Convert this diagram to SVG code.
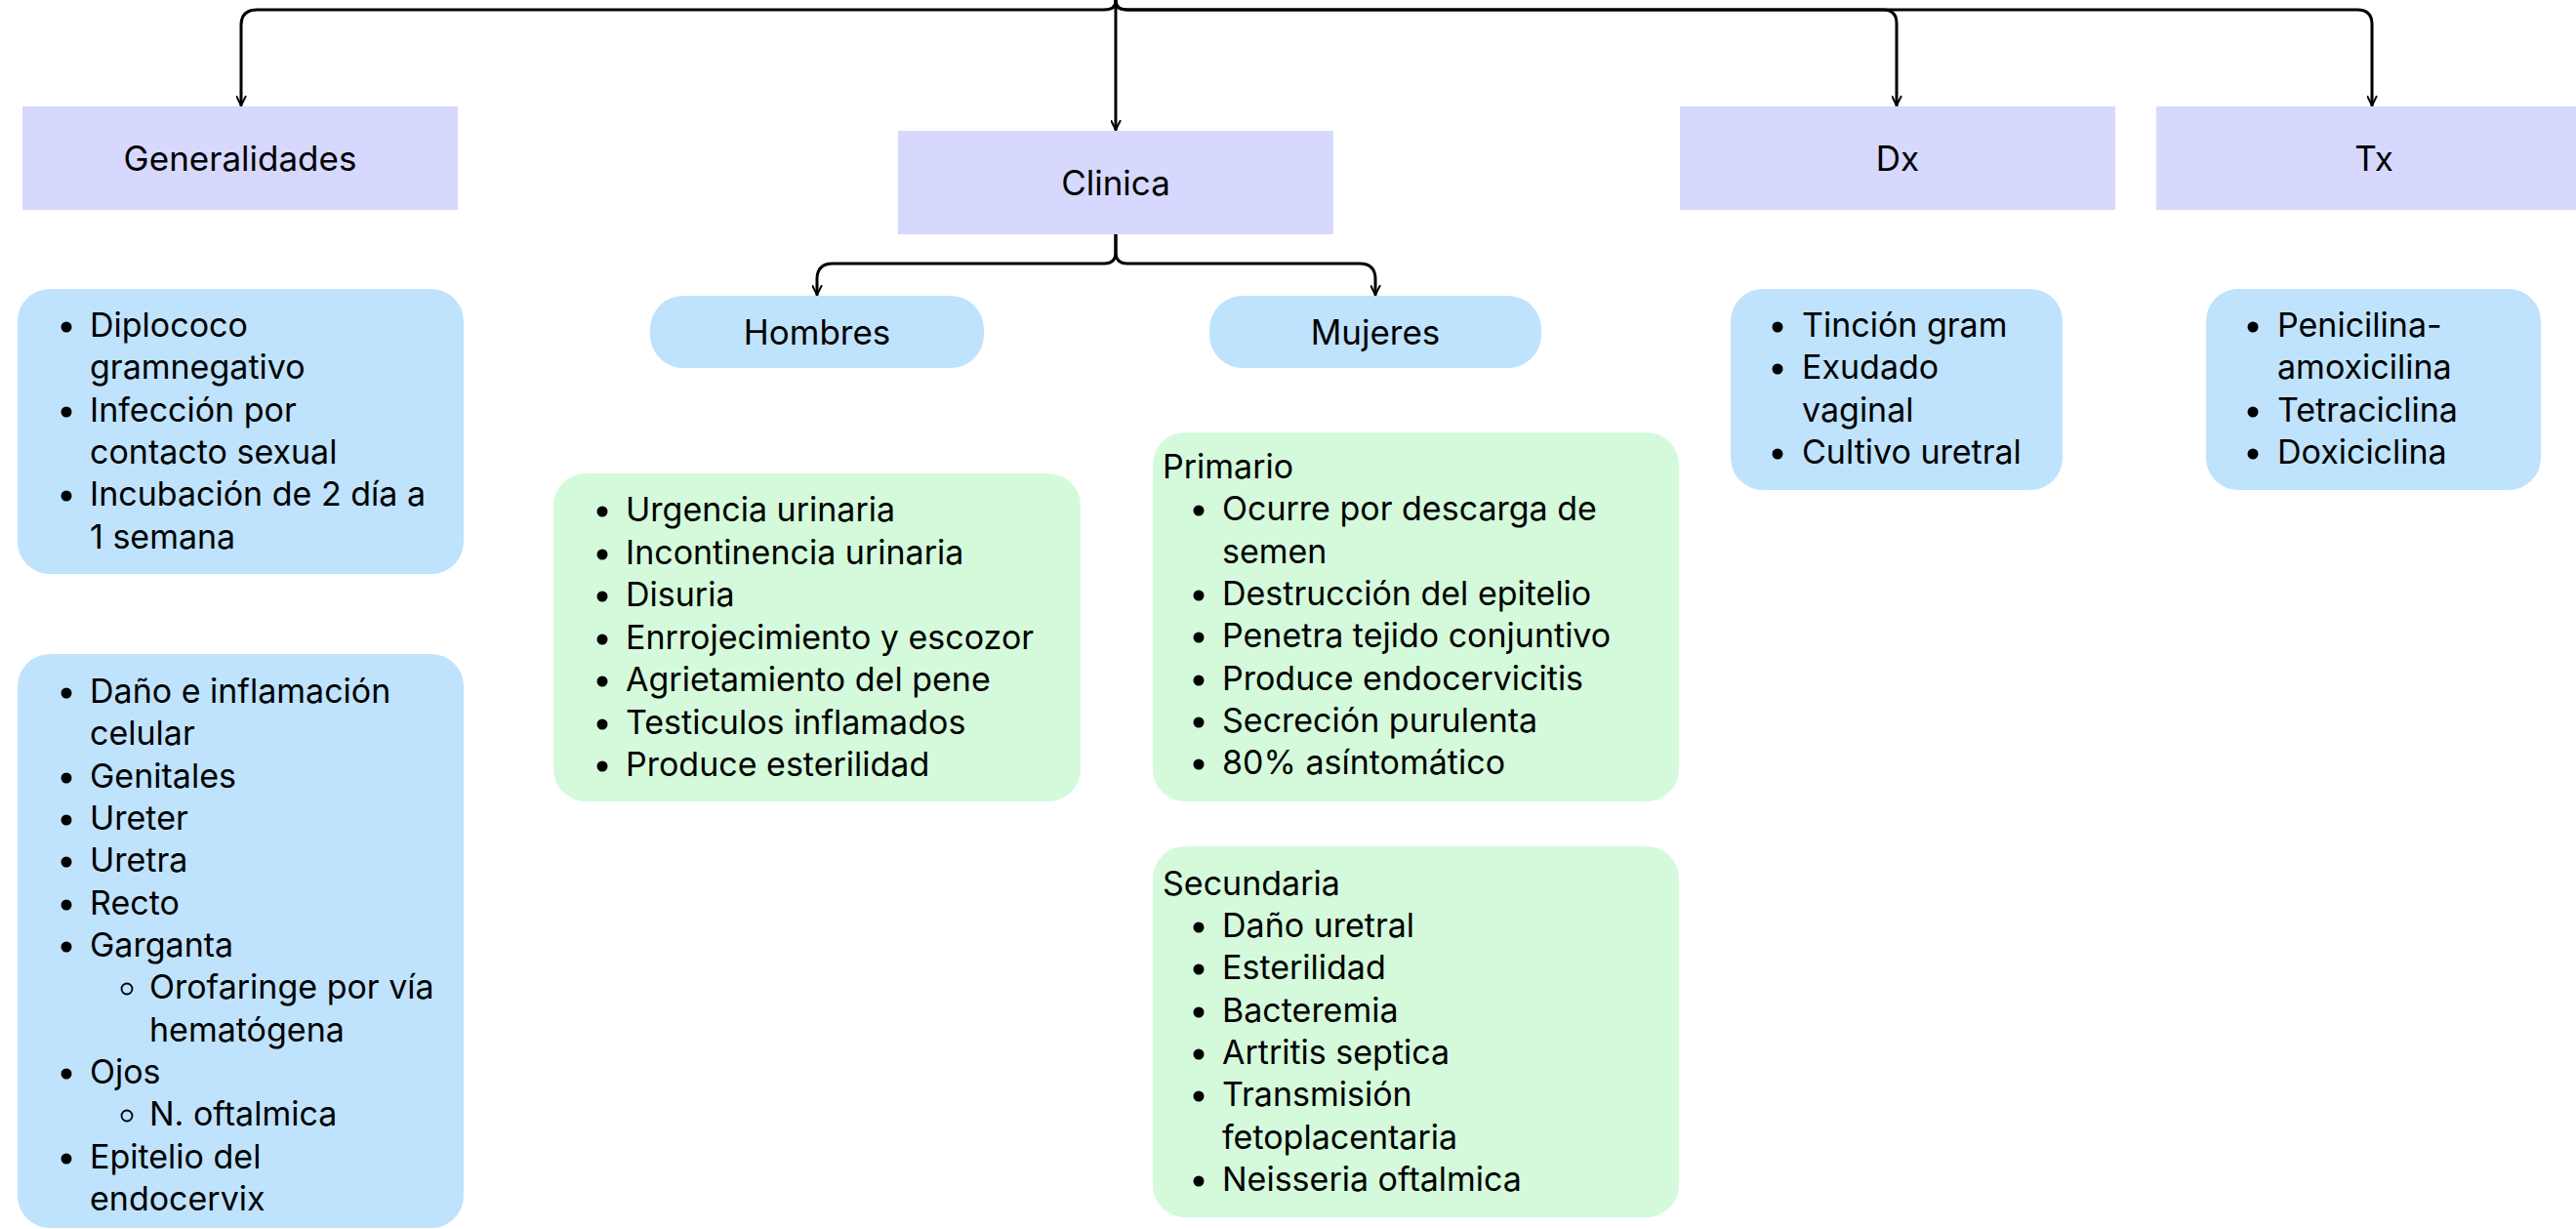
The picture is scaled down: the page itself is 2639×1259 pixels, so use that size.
<svg xmlns="http://www.w3.org/2000/svg" width="2639" height="1259" viewBox="0 0 2639 1259">
<style>
  text { font-family: Inter, "DejaVu Sans", sans-serif; font-size: 34px; fill: #000; }
  .hd { text-anchor: middle; font-size: 35px; }
  .head { fill: #d6d9fd; }
  .blue { fill: #bfe3fd; }
  .green { fill: #d4fadb; }
  .dot { fill: #000; }
  .ring { fill: none; stroke: #000; stroke-width: 1.8; }
  .conn { fill: none; stroke: #000; stroke-width: 3; stroke-linecap: round; stroke-linejoin: round; }
</style>
<defs>
  <marker id="arr" viewBox="0 0 12 12" refX="11" refY="6" markerWidth="11" markerHeight="11" markerUnits="userSpaceOnUse" orient="auto">
    <path d="M1,1 L11,6 L1,11" fill="none" stroke="#000" stroke-width="2.2" stroke-linecap="round" stroke-linejoin="round"/>
  </marker>
</defs>
<rect width="2639" height="1259" fill="#fff"/>

<g id="connectors">
  <path class="conn" marker-end="url(#arr)" d="M1143,1 Q1143,10 1131,10 H263 Q247,10 247,26 V108"/>
  <path class="conn" marker-end="url(#arr)" d="M1143,1 V133"/>
  <path class="conn" marker-end="url(#arr)" d="M1143,1 Q1143,10 1155,10 H1929 Q1943,10 1943,24 V108"/>
  <path class="conn" marker-end="url(#arr)" d="M1143,1 Q1143,10 1155,10 H2415 Q2430,10 2430,25 V108"/>
  <path class="conn" marker-end="url(#arr)" d="M1143,240 V258 Q1143,270 1131,270 H853 Q837,270 837,286 V302"/>
  <path class="conn" marker-end="url(#arr)" d="M1143,240 V258 Q1143,270 1155,270 H1393 Q1409,270 1409,286 V302"/>
</g>

<g id="generalidades">
  <rect class="head" x="23" y="109" width="446" height="106"/>
  <text class="hd" x="246" y="175">Generalidades</text>
</g>
<g id="clinica">
  <rect class="head" x="920" y="134" width="446" height="106"/>
  <text class="hd" x="1143" y="200">Clinica</text>
</g>
<g id="dx">
  <rect class="head" x="1721" y="109" width="446" height="106"/>
  <text class="hd" x="1944" y="175">Dx</text>
</g>
<g id="tx">
  <rect class="head" x="2209" y="109" width="446" height="106"/>
  <text class="hd" x="2432" y="175">Tx</text>
</g>

<g id="hombres">
  <rect class="blue" x="666" y="303" width="342" height="74" rx="34"/>
  <text class="hd" x="837" y="353">Hombres</text>
</g>
<g id="mujeres">
  <rect class="blue" x="1239" y="303" width="340" height="74" rx="34"/>
  <text class="hd" x="1409" y="353">Mujeres</text>
</g>

<g id="gen-list-1">
  <rect class="blue" x="18" y="296" width="457" height="292" rx="33"/>
  <circle class="dot" cx="68" cy="335" r="5.5"/>
  <circle class="dot" cx="68" cy="422" r="5.5"/>
  <circle class="dot" cx="68" cy="508" r="5.5"/>
  <text x="92" y="345">Diplococo</text>
  <text x="92" y="388">gramnegativo</text>
  <text x="92" y="432">Infección por</text>
  <text x="92" y="475">contacto sexual</text>
  <text x="92" y="518">Incubación de 2 día a</text>
  <text x="92" y="562">1 semana</text>
</g>

<g id="gen-list-2">
  <rect class="blue" x="18" y="670" width="457" height="588" rx="33"/>
  <circle class="dot" cx="68" cy="710" r="5.5"/>
  <circle class="dot" cx="68" cy="797" r="5.5"/>
  <circle class="dot" cx="68" cy="840" r="5.5"/>
  <circle class="dot" cx="68" cy="883" r="5.5"/>
  <circle class="dot" cx="68" cy="927" r="5.5"/>
  <circle class="dot" cx="68" cy="970" r="5.5"/>
  <circle class="ring" cx="130" cy="1013" r="5.5"/>
  <circle class="dot" cx="68" cy="1100" r="5.5"/>
  <circle class="ring" cx="130" cy="1143" r="5.5"/>
  <circle class="dot" cx="68" cy="1187" r="5.5"/>
  <text x="92" y="720">Daño e inflamación</text>
  <text x="92" y="763">celular</text>
  <text x="92" y="807">Genitales</text>
  <text x="92" y="850">Ureter</text>
  <text x="92" y="893">Uretra</text>
  <text x="92" y="937">Recto</text>
  <text x="92" y="980">Garganta</text>
  <text x="153" y="1023">Orofaringe por vía</text>
  <text x="153" y="1067">hematógena</text>
  <text x="92" y="1110">Ojos</text>
  <text x="153" y="1153">N. oftalmica</text>
  <text x="92" y="1197">Epitelio del</text>
  <text x="92" y="1240">endocervix</text>
</g>

<g id="hombres-list">
  <rect class="green" x="567" y="485" width="540" height="336" rx="33"/>
  <circle class="dot" cx="617" cy="524" r="5.5"/>
  <circle class="dot" cx="617" cy="568" r="5.5"/>
  <circle class="dot" cx="617" cy="611" r="5.5"/>
  <circle class="dot" cx="617" cy="655" r="5.5"/>
  <circle class="dot" cx="617" cy="698" r="5.5"/>
  <circle class="dot" cx="617" cy="742" r="5.5"/>
  <circle class="dot" cx="617" cy="785" r="5.5"/>
  <text x="641" y="534">Urgencia urinaria</text>
  <text x="641" y="578">Incontinencia urinaria</text>
  <text x="641" y="621">Disuria</text>
  <text x="641" y="665">Enrrojecimiento y escozor</text>
  <text x="641" y="708">Agrietamiento del pene</text>
  <text x="641" y="752">Testiculos inflamados</text>
  <text x="641" y="795">Produce esterilidad</text>
</g>

<g id="primario">
  <rect class="green" x="1181" y="443" width="539" height="378" rx="33"/>
  <text x="1191" y="490">Primario</text>
  <circle class="dot" cx="1228" cy="523" r="5.5"/>
  <circle class="dot" cx="1228" cy="610" r="5.5"/>
  <circle class="dot" cx="1228" cy="653" r="5.5"/>
  <circle class="dot" cx="1228" cy="697" r="5.5"/>
  <circle class="dot" cx="1228" cy="740" r="5.5"/>
  <circle class="dot" cx="1228" cy="783" r="5.5"/>
  <text x="1252" y="533">Ocurre por descarga de</text>
  <text x="1252" y="577">semen</text>
  <text x="1252" y="620">Destrucción del epitelio</text>
  <text x="1252" y="663">Penetra tejido conjuntivo</text>
  <text x="1252" y="707">Produce endocervicitis</text>
  <text x="1252" y="750">Secreción purulenta</text>
  <text x="1252" y="793">80% asíntomático</text>
</g>

<g id="secundaria">
  <rect class="green" x="1181" y="867" width="539" height="380" rx="33"/>
  <text x="1191" y="917">Secundaria</text>
  <circle class="dot" cx="1228" cy="950" r="5.5"/>
  <circle class="dot" cx="1228" cy="993" r="5.5"/>
  <circle class="dot" cx="1228" cy="1037" r="5.5"/>
  <circle class="dot" cx="1228" cy="1080" r="5.5"/>
  <circle class="dot" cx="1228" cy="1123" r="5.5"/>
  <circle class="dot" cx="1228" cy="1210" r="5.5"/>
  <text x="1252" y="960">Daño uretral</text>
  <text x="1252" y="1003">Esterilidad</text>
  <text x="1252" y="1047">Bacteremia</text>
  <text x="1252" y="1090">Artritis septica</text>
  <text x="1252" y="1133">Transmisión</text>
  <text x="1252" y="1177">fetoplacentaria</text>
  <text x="1252" y="1220">Neisseria oftalmica</text>
</g>

<g id="dx-list">
  <rect class="blue" x="1773" y="296" width="340" height="206" rx="33"/>
  <circle class="dot" cx="1821" cy="335" r="5.5"/>
  <circle class="dot" cx="1821" cy="378" r="5.5"/>
  <circle class="dot" cx="1821" cy="465" r="5.5"/>
  <text x="1846" y="345">Tinción gram</text>
  <text x="1846" y="388">Exudado</text>
  <text x="1846" y="432">vaginal</text>
  <text x="1846" y="475">Cultivo uretral</text>
</g>

<g id="tx-list">
  <rect class="blue" x="2260" y="296" width="343" height="206" rx="33"/>
  <circle class="dot" cx="2308" cy="335" r="5.5"/>
  <circle class="dot" cx="2308" cy="422" r="5.5"/>
  <circle class="dot" cx="2308" cy="465" r="5.5"/>
  <text x="2333" y="345">Penicilina-</text>
  <text x="2333" y="388">amoxicilina</text>
  <text x="2333" y="432">Tetraciclina</text>
  <text x="2333" y="475">Doxiciclina</text>
</g>
</svg>
